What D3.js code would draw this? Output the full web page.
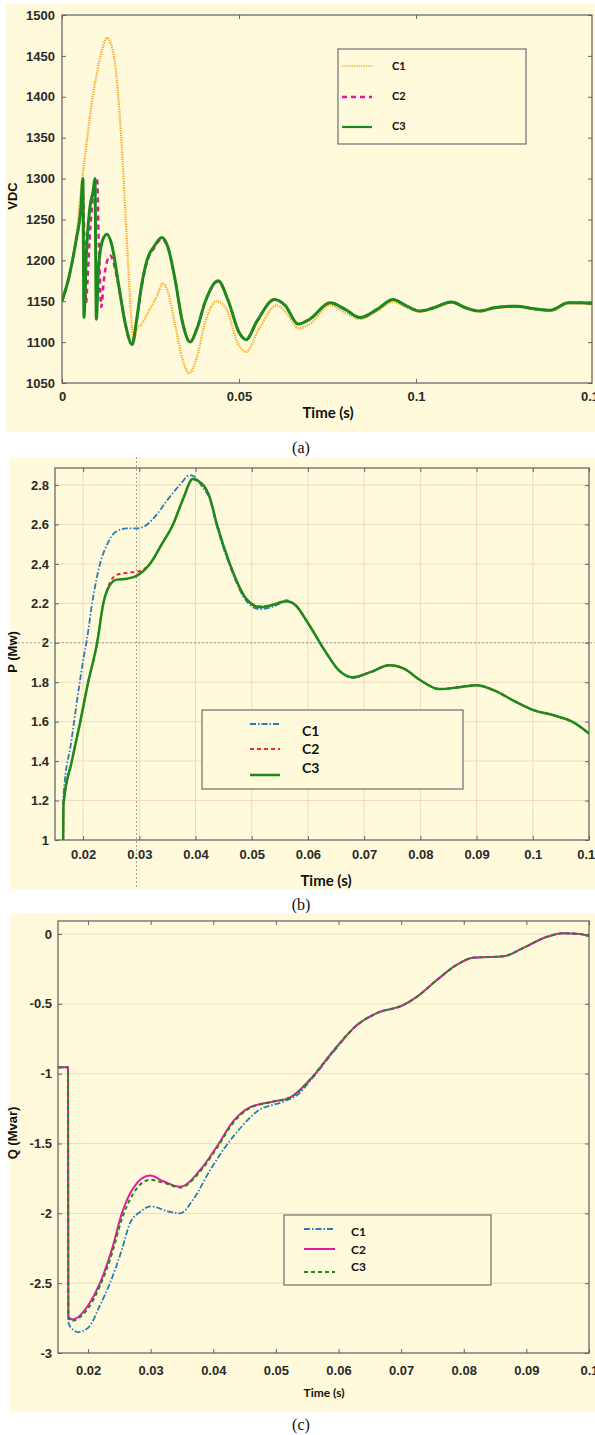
<!DOCTYPE html>
<html>
<head>
<meta charset="utf-8">
<script src="https://cdn.jsdelivr.net/npm/d3@7"></script>
<style>
  body { margin: 0; background: #fff; }
  svg { display: block; }
</style>
</head>
<body>
<svg id="chart" width="595" height="1435"></svg>
<script>
// ---------- panel (a) : VDC ----------
const vdcTicksX = [0, 0.05, 0.1, 0.15];
const vdcTicksY = [1050, 1100, 1150, 1200, 1250, 1300, 1350, 1400, 1450, 1500];
const vdcC1 = [[0,1150],[0.002,1182],[0.004,1228],[0.0055,1292],[0.007,1345],[0.0085,1395],[0.01,1432],[0.0115,1460],[0.0127,1472],[0.0138,1465],[0.015,1440],[0.016,1395],[0.017,1330],[0.018,1250],[0.019,1170],[0.0198,1115],[0.0204,1102],[0.0212,1117],[0.0225,1122],[0.024,1134],[0.0268,1156],[0.0285,1172],[0.03,1160],[0.032,1120],[0.034,1080],[0.0359,1062],[0.038,1080],[0.0405,1125],[0.0437,1150],[0.0465,1140],[0.0495,1100],[0.052,1088],[0.0555,1115],[0.0607,1145],[0.064,1132],[0.0667,1117],[0.07,1122],[0.0757,1145],[0.08,1136],[0.0842,1128],[0.089,1138],[0.0935,1149],[0.097,1143],[0.101,1137],[0.105,1141],[0.11,1148],[0.114,1141],[0.118,1137],[0.122,1141],[0.1285,1143],[0.133,1140],[0.138,1138],[0.143,1147],[0.147,1147],[0.15,1146]];
const vdcC2 = [[0,1150],[0.002,1180],[0.004,1225],[0.0053,1260],[0.0058,1285],[0.0064,1215],[0.0068,1148],[0.0072,1175],[0.008,1240],[0.0088,1280],[0.0099,1300],[0.0104,1220],[0.0111,1143],[0.0118,1175],[0.0128,1200],[0.0136,1206],[0.0145,1198],[0.016,1168],[0.018,1120],[0.0198,1097],[0.021,1124],[0.0225,1168],[0.024,1198],[0.026,1215],[0.0282,1226],[0.03,1214],[0.032,1175],[0.034,1125],[0.0362,1100],[0.038,1115],[0.0405,1150],[0.0441,1174],[0.047,1150],[0.05,1112],[0.052,1103],[0.055,1125],[0.06,1152],[0.063,1145],[0.0667,1122],[0.07,1128],[0.0757,1148],[0.08,1140],[0.0842,1130],[0.089,1140],[0.0935,1152],[0.097,1145],[0.101,1138],[0.105,1142],[0.11,1149],[0.114,1142],[0.118,1138],[0.122,1142],[0.1285,1144],[0.133,1141],[0.138,1139],[0.143,1148],[0.147,1148],[0.15,1147]];
const vdcC3 = [[0,1150],[0.002,1180],[0.004,1225],[0.0053,1262],[0.0059,1300],[0.0062,1130],[0.0068,1200],[0.0078,1262],[0.0088,1285],[0.0093,1300],[0.0097,1128],[0.0103,1190],[0.0115,1225],[0.0127,1232],[0.014,1220],[0.016,1170],[0.018,1120],[0.0198,1097],[0.021,1125],[0.0225,1170],[0.024,1200],[0.026,1217],[0.0282,1228],[0.03,1215],[0.032,1175],[0.034,1125],[0.0362,1100],[0.038,1115],[0.0405,1150],[0.0441,1175],[0.047,1150],[0.05,1112],[0.052,1103],[0.055,1125],[0.06,1152],[0.063,1145],[0.0667,1122],[0.07,1128],[0.0757,1148],[0.08,1140],[0.0842,1130],[0.089,1140],[0.0935,1152],[0.097,1145],[0.101,1138],[0.105,1142],[0.11,1149],[0.114,1142],[0.118,1138],[0.122,1142],[0.1285,1144],[0.133,1141],[0.138,1139],[0.143,1148],[0.147,1148],[0.15,1147]];

// ---------- panel (b) : P ----------
const pTicksX = [0.02, 0.03, 0.04, 0.05, 0.06, 0.07, 0.08, 0.09, 0.1, 0.11];
const pTicksY = [1, 1.2, 1.4, 1.6, 1.8, 2, 2.2, 2.4, 2.6, 2.8];
const pCursor = [0.0295, 2];
const pC1 = [[0.01645,1.0],[0.0165,1.22],[0.0179,1.5],[0.0193,1.78],[0.02,1.91],[0.0207,2.02],[0.0216,2.2],[0.023,2.4],[0.0243,2.5],[0.0257,2.56],[0.0278,2.58],[0.0296,2.58],[0.0314,2.6],[0.0331,2.65],[0.0349,2.72],[0.0372,2.8],[0.039,2.85],[0.0399,2.84],[0.0412,2.79],[0.0425,2.73],[0.0438,2.59],[0.0461,2.39],[0.0491,2.21],[0.0515,2.17],[0.0535,2.18],[0.0562,2.21],[0.0578,2.19],[0.06,2.1],[0.063,1.96],[0.0655,1.86],[0.068,1.822],[0.071,1.85],[0.0745,1.886],[0.077,1.87],[0.08,1.81],[0.0834,1.765],[0.087,1.775],[0.09,1.785],[0.093,1.76],[0.097,1.7],[0.1,1.66],[0.104,1.63],[0.107,1.6],[0.11,1.54]];
const pC2 = [[0.01645,1.0],[0.0165,1.18],[0.018,1.4],[0.0195,1.6],[0.0209,1.8],[0.0225,2.0],[0.0236,2.2],[0.0247,2.3],[0.026,2.345],[0.0278,2.355],[0.0296,2.36],[0.0319,2.4],[0.034,2.5],[0.036,2.6],[0.0378,2.73],[0.0395,2.83],[0.0405,2.82],[0.0425,2.74],[0.0438,2.6],[0.0461,2.4],[0.0491,2.22],[0.0515,2.185],[0.0535,2.19],[0.0562,2.215],[0.0578,2.19],[0.06,2.1],[0.063,1.96],[0.0655,1.86],[0.068,1.825],[0.071,1.85],[0.0745,1.886],[0.077,1.87],[0.08,1.81],[0.0834,1.765],[0.087,1.775],[0.09,1.785],[0.093,1.76],[0.097,1.7],[0.1,1.66],[0.104,1.63],[0.107,1.6],[0.11,1.54]];
const pC3 = [[0.01645,1.0],[0.0165,1.18],[0.018,1.4],[0.0195,1.6],[0.0209,1.8],[0.0225,2.0],[0.0236,2.2],[0.0247,2.29],[0.026,2.32],[0.0278,2.325],[0.0296,2.34],[0.0319,2.4],[0.034,2.5],[0.036,2.6],[0.0378,2.73],[0.0395,2.83],[0.0405,2.82],[0.0425,2.74],[0.0438,2.6],[0.0461,2.4],[0.0491,2.22],[0.0515,2.18],[0.0535,2.19],[0.0562,2.21],[0.0578,2.19],[0.06,2.1],[0.063,1.96],[0.0655,1.86],[0.068,1.825],[0.071,1.85],[0.0745,1.886],[0.077,1.87],[0.08,1.81],[0.0834,1.765],[0.087,1.775],[0.09,1.785],[0.093,1.76],[0.097,1.7],[0.1,1.66],[0.104,1.63],[0.107,1.6],[0.11,1.54]];

// ---------- panel (c) : Q ----------
const qTicksX = [0.02, 0.03, 0.04, 0.05, 0.06, 0.07, 0.08, 0.09, 0.1];
const qTicksY = [-3, -2.5, -2, -1.5, -1, -0.5, 0];
const qC1 = [[0.0152,-0.955],[0.0168,-0.955],[0.01685,-2.78],[0.0175,-2.83],[0.0184,-2.85],[0.02,-2.82],[0.0219,-2.66],[0.0235,-2.5],[0.0254,-2.26],[0.0267,-2.07],[0.0283,-1.99],[0.03,-1.95],[0.0331,-1.99],[0.0347,-2.0],[0.0368,-1.9],[0.0395,-1.69],[0.042,-1.52],[0.0445,-1.38],[0.047,-1.27],[0.0512,-1.2],[0.0535,-1.15],[0.0555,-1.05],[0.0591,-0.85],[0.063,-0.65],[0.0662,-0.565],[0.0703,-0.51],[0.0725,-0.45],[0.0757,-0.33],[0.0789,-0.22],[0.0815,-0.17],[0.0863,-0.16],[0.0895,-0.1],[0.0933,-0.02],[0.0959,0.005],[0.0986,0.0],[0.1,-0.015]];
const qC2 = [[0.0152,-0.955],[0.0168,-0.955],[0.01685,-2.74],[0.0175,-2.76],[0.0185,-2.74],[0.02,-2.66],[0.0219,-2.5],[0.0238,-2.26],[0.0254,-2.0],[0.0272,-1.82],[0.0299,-1.73],[0.032,-1.77],[0.0347,-1.81],[0.0379,-1.69],[0.0406,-1.52],[0.0432,-1.34],[0.0459,-1.24],[0.0496,-1.2],[0.0523,-1.17],[0.0555,-1.04],[0.0591,-0.84],[0.063,-0.65],[0.0662,-0.565],[0.0703,-0.51],[0.0725,-0.45],[0.0757,-0.33],[0.0789,-0.22],[0.0815,-0.17],[0.0863,-0.16],[0.0895,-0.1],[0.0933,-0.02],[0.0959,0.005],[0.0986,0.0],[0.1,-0.015]];
const qC3 = [[0.0152,-0.955],[0.0168,-0.955],[0.01685,-2.75],[0.0175,-2.77],[0.0185,-2.75],[0.02,-2.68],[0.0219,-2.52],[0.0238,-2.29],[0.0254,-2.04],[0.0272,-1.86],[0.0299,-1.76],[0.032,-1.78],[0.0347,-1.815],[0.0379,-1.7],[0.0406,-1.53],[0.0432,-1.35],[0.0459,-1.245],[0.0496,-1.2],[0.0523,-1.17],[0.0555,-1.04],[0.0591,-0.84],[0.063,-0.65],[0.0662,-0.565],[0.0703,-0.51],[0.0725,-0.45],[0.0757,-0.33],[0.0789,-0.22],[0.0815,-0.17],[0.0863,-0.16],[0.0895,-0.1],[0.0933,-0.02],[0.0959,0.005],[0.0986,0.0],[0.1,-0.015]];

const cream = "#fefadb";
const tickFont = "'Liberation Sans', Arial, sans-serif";
const titleFont = "Lato, 'Open Sans', sans-serif";

const svg = d3.select("#chart");

function drawPanel(p) {
  const g = svg.append("g");

  g.append("rect")
    .attr("x", p.bg[0]).attr("y", p.bg[1])
    .attr("width", p.bg[2]).attr("height", p.bg[3])
    .attr("fill", cream);

  const x = d3.scaleLinear().domain(p.xDomain).range([p.left, p.right]);
  const y = d3.scaleLinear().domain(p.yDomain).range([p.bottom, p.top]);

  // grid lines
  if (p.gridX) {
    g.selectAll(null).data(p.xTicks.filter(d => x(d) < p.right - 1)).join("line")
      .attr("x1", d => x(d)).attr("x2", d => x(d))
      .attr("y1", p.top).attr("y2", p.bottom)
      .attr("stroke", "#f0dabd").attr("stroke-width", 1);
  }
  if (p.gridY) {
    g.selectAll(null).data(p.yTicks.filter(d => y(d) > p.top + 1 && y(d) < p.bottom - 1)).join("line")
      .attr("x1", p.left).attr("x2", p.right)
      .attr("y1", d => y(d)).attr("y2", d => y(d))
      .attr("stroke", "#f0dabd").attr("stroke-width", 1);
  }

  // extra crosshair (panel b)
  if (p.cursor) {
    g.append("line")
      .attr("x1", x(p.cursor[0])).attr("x2", x(p.cursor[0]))
      .attr("y1", p.bg[1]).attr("y2", p.bg[1] + p.bg[3])
      .attr("stroke", "#8a8a8a").attr("stroke-width", 0.8).attr("stroke-dasharray", "2,2");
    g.append("line")
      .attr("x1", p.bg[0]).attr("x2", p.bg[0] + p.bg[2])
      .attr("y1", y(p.cursor[1])).attr("y2", y(p.cursor[1]))
      .attr("stroke", "#8a8a8a").attr("stroke-width", 0.8).attr("stroke-dasharray", "2,2");
  }

  // axes
  const fmt = d => String(d);
  const xb = g.append("g").attr("transform", `translate(0,${p.bottom})`)
    .call(d3.axisBottom(x).tickValues(p.xTicks).tickFormat(fmt)
      .tickSizeInner(-4).tickSizeOuter(0).tickPadding(p.xPad));
  const xt = g.append("g").attr("transform", `translate(0,${p.top})`)
    .call(d3.axisTop(x).tickValues(p.xTicks).tickFormat("")
      .tickSizeInner(-4).tickSizeOuter(0));
  const yl = g.append("g").attr("transform", `translate(${p.left},0)`)
    .call(d3.axisLeft(y).tickValues(p.yTicks).tickFormat(fmt)
      .tickSizeInner(-4).tickSizeOuter(0).tickPadding(p.yPad));
  const yr = g.append("g").attr("transform", `translate(${p.right},0)`)
    .call(d3.axisRight(y).tickValues(p.yTicks).tickFormat("")
      .tickSizeInner(-4).tickSizeOuter(0));
  [xb, xt, yl, yr].forEach(a => {
    a.select(".domain").remove();
    a.selectAll(".tick line").attr("stroke", "#666");
    a.selectAll(".tick").filter(d => (d > p.xDomain[1] + 1e-9 && (a === xb || a === xt))).select("line").remove();
    a.selectAll("text")
      .attr("fill", "#2a2a2a")
      .style("font-family", tickFont)
      .style("font-weight", "bold")
      .style("font-size", "13px");
  });

  // frame
  g.append("rect")
    .attr("x", p.left).attr("y", p.top)
    .attr("width", p.right - p.left).attr("height", p.bottom - p.top)
    .attr("fill", "none").attr("stroke", "#5e5e5e").attr("stroke-width", 1.2);

  // series
  const clipId = "clip-" + p.name;
  svg.append("clipPath").attr("id", clipId).append("rect")
    .attr("x", p.left).attr("y", p.top)
    .attr("width", p.right - p.left).attr("height", p.bottom - p.top);

  const line = d3.line().x(d => x(d[0])).y(d => y(d[1])).curve(d3.curveMonotoneX);
  const lines = g.append("g").attr("clip-path", `url(#${clipId})`);
  p.series.forEach(s => {
    lines.append("path")
      .datum(s.data)
      .attr("d", line)
      .attr("fill", "none")
      .attr("stroke", s.color)
      .attr("stroke-width", s.width)
      .attr("stroke-dasharray", s.dash || null)
      .attr("stroke-linejoin", "round");
  });

  // axis titles
  g.append("text")
    .attr("x", p.xTitle[0]).attr("y", p.xTitle[1])
    .attr("text-anchor", "middle")
    .style("font-family", titleFont)
    .style("font-weight", "bold")
    .style("font-size", p.xTitle[2] + "px")
    .attr("fill", "#111")
    .text("Time (s)");
  g.append("text")
    .attr("transform", `translate(${p.yTitle[0]},${p.yTitle[1]}) rotate(-90)`)
    .attr("text-anchor", "middle")
    .style("font-family", tickFont)
    .style("font-weight", "bold")
    .style("font-size", "13px")
    .attr("fill", "#111")
    .text(p.yLabel);

  // legend
  const L = p.legend;
  g.append("rect")
    .attr("x", L.box[0]).attr("y", L.box[1])
    .attr("width", L.box[2]).attr("height", L.box[3])
    .attr("fill", cream).attr("stroke", "#6e6e6e").attr("stroke-width", 1.2);
  p.series.forEach((s, i) => {
    g.append("line")
      .attr("x1", L.sx[0]).attr("x2", L.sx[1])
      .attr("y1", L.sy[i]).attr("y2", L.sy[i])
      .attr("stroke", s.color)
      .attr("stroke-width", s.legendWidth || s.width)
      .attr("stroke-dasharray", s.dash || null);
    g.append("text")
      .attr("x", L.tx).attr("y", L.ty[i])
      .attr("dy", "0.35em")
      .style("font-family", titleFont)
      .style("font-weight", "bold")
      .style("font-size", L.fs + "px")
      .attr("fill", "#111")
      .text(s.name);
  });

  // caption
  svg.append("text")
    .attr("x", p.caption[0]).attr("y", p.caption[1])
    .attr("text-anchor", "middle")
    .style("font-family", "'Liberation Serif', 'Times New Roman', serif")
    .style("font-size", "16px")
    .attr("fill", "#111")
    .text(p.caption[2]);
}

drawPanel({
  name: "a",
  bg: [6, 4, 589, 428],
  left: 62, right: 592, top: 15, bottom: 383,
  xDomain: [0, 0.1497], yDomain: [1050, 1500],
  xTicks: vdcTicksX, yTicks: vdcTicksY,
  xPad: 9, yPad: 7,
  gridX: false, gridY: false,
  xTitle: [328, 418, 15], yTitle: [17, 196], yLabel: "VDC",
  series: [
    { name: "C1", data: vdcC1, color: "#f8a920", width: 2.2, dash: "1.3,1.1", legendWidth: 1.5 },
    { name: "C2", data: vdcC2, color: "#e0189c", width: 2.5, dash: "5,4", legendWidth: 2.5 },
    { name: "C3", data: vdcC3, color: "#1d8a1d", width: 3, legendWidth: 2.2 }
  ],
  legend: { box: [338, 49, 188, 95], sx: [342, 372], sy: [66, 97, 127], tx: 392, ty: [66, 96, 126], fs: 11 },
  caption: [301, 453, "(a)"]
});

drawPanel({
  name: "b",
  bg: [10, 457, 585, 432],
  left: 55, right: 589, top: 468, bottom: 840,
  xDomain: [0.015, 0.11], yDomain: [1, 2.886],
  xTicks: pTicksX, yTicks: pTicksY,
  xPad: 10, yPad: 6,
  gridX: true, gridY: true, cursor: pCursor,
  xTitle: [326, 886, 15], yTitle: [17, 652], yLabel: "P (Mw)",
  series: [
    { name: "C1", data: pC1, color: "#2b7bb6", width: 1.8, dash: "6,2,1.5,2" },
    { name: "C2", data: pC2, color: "#ff2222", width: 2, dash: "4,3" },
    { name: "C3", data: pC3, color: "#1d8a1d", width: 2.5 }
  ],
  legend: { box: [202, 710, 261, 79], sx: [250, 280], sy: [724, 749, 775], tx: 302, ty: [731, 749, 768], fs: 14 },
  caption: [301, 910, "(b)"]
});

drawPanel({
  name: "c",
  bg: [10, 913, 585, 499],
  left: 58, right: 589, top: 921, bottom: 1353,
  xDomain: [0.0152, 0.1], yDomain: [-3, 0.093],
  xTicks: qTicksX, yTicks: qTicksY,
  xPad: 13, yPad: 6,
  gridX: false, gridY: true,
  xTitle: [324, 1397, 12], yTitle: [17, 1133], yLabel: "Q (Mvar)",
  series: [
    { name: "C1", data: qC1, color: "#2b7bb6", width: 1.8, dash: "6,2,1.5,2" },
    { name: "C2", data: qC2, color: "#e619a3", width: 2 },
    { name: "C3", data: qC3, color: "#1d8a1d", width: 2, dash: "4,3" }
  ],
  legend: { box: [284, 1215, 207, 70], sx: [304, 335], sy: [1229, 1249, 1272], tx: 351, ty: [1232, 1250, 1267], fs: 12 },
  caption: [301, 1430, "(c)"]
});
</script>
</body>
</html>
